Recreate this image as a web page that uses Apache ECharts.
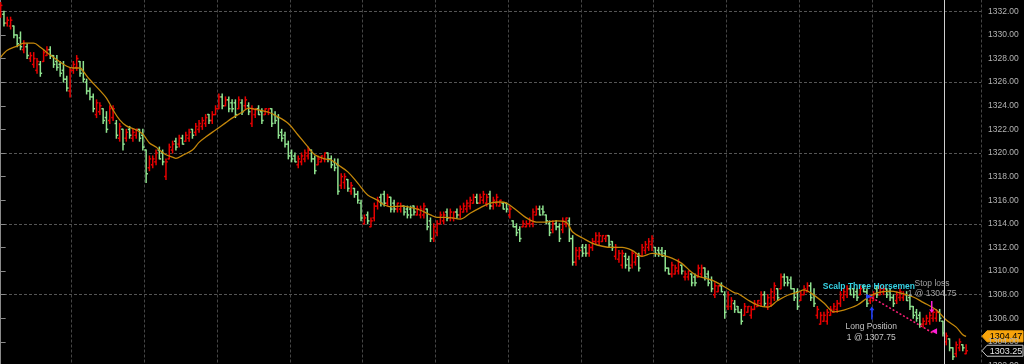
<!DOCTYPE html>
<html><head><meta charset="utf-8">
<script src="https://cdn.jsdelivr.net/npm/echarts@6/dist/echarts.min.js"></script>
<style>html,body{margin:0;padding:0;background:#000;}#c{width:1024px;height:364px;}</style>
</head><body><div id="c"></div>
<script>
// ---- DATA (OHLC bars) ----
const opens = [
1331.75,1331.75,1331.0,1330.75,1330.75,1330.0,1329.75,1328.75,1329.0,1328.0,
1327.5,1327.0,1327.5,1327.75,1328.25,1328.75,1328.25,1327.75,1327.5,1327.0,
1326.25,1325.25,1327.0,1327.25,1327.75,1327.0,1326.0,1325.25,1324.75,1323.25,
1323.5,1323.75,1323.0,1322.75,1323.0,1322.5,1321.25,1322.0,1321.25,1322.0,
1321.25,1321.5,1322.0,1321.5,1320.25,1318.75,1319.0,1319.25,1320.25,1320.0,
1318.0,1319.5,1320.25,1321.0,1320.75,1321.25,1321.0,1321.25,1322.0,1321.75,
1322.0,1322.25,1322.5,1323.25,1322.75,1323.25,1323.75,1324.75,1324.0,1324.5,
1324.25,1324.25,1323.75,1324.25,1324.0,1324.0,1322.5,1323.25,1323.75,1323.5,
1323.25,1323.5,1323.75,1323.25,1323.0,1321.75,1321.5,1320.75,1320.0,1319.75,
1319.0,1319.25,1319.5,1319.75,1320.25,1319.5,1319.0,1319.25,1319.5,1320.0,
1319.5,1319.25,1319.0,1317.25,1317.5,1317.75,1316.75,1317.0,1316.5,1315.75,
1314.0,1314.75,1313.75,1314.5,1315.5,1316.25,1316.5,1315.75,1316.25,1315.75,
1315.25,1315.25,1315.5,1315.25,1315.25,1315.5,1314.75,1314.75,1314.75,1315.25,
1314.25,1312.75,1313.25,1314.0,1314.25,1315.0,1314.5,1314.5,1315.0,1314.75,
1315.0,1315.25,1315.5,1315.75,1316.25,1315.75,1316.0,1315.75,1316.5,1315.5,
1315.75,1315.5,1315.75,1315.75,1314.75,1314.25,1313.75,1313.5,1313.75,1313.75,
1314.0,1314.0,1314.75,1315.25,1315.25,1314.75,1314.0,1313.5,1314.0,1313.75,
1313.5,1314.0,1314.25,1312.75,1310.75,1311.25,1312.0,1312.0,1311.5,1312.0,
1312.5,1312.5,1312.5,1312.75,1313.0,1312.5,1311.25,1311.0,1310.5,1311.25,
1311.0,1310.5,1310.75,1311.25,1311.25,1311.75,1312.0,1312.25,1312.0,1311.75,
1311.75,1311.5,1310.25,1309.75,1309.75,1310.0,1310.5,1309.5,1309.5,1309.75,
1309.5,1309.5,1309.75,1310.25,1309.75,1309.25,1308.0,1308.25,1308.75,1308.0,
1307.0,1307.0,1307.25,1307.0,1306.5,1306.25,1306.5,1306.25,1306.75,1307.0,
1307.25,1308.0,1307.0,1307.25,1307.75,1308.5,1308.5,1309.5,1309.5,1309.25,
1308.5,1308.25,1307.5,1308.0,1308.25,1308.75,1308.0,1306.25,1305.5,1305.75,
1305.75,1306.25,1306.5,1306.75,1307.25,1307.75,1308.0,1308.5,1308.5,1308.25,
1308.0,1308.75,1308.25,1307.5,1307.5,1308.5,1308.0,1308.25,1308.5,1308.25,
1307.75,1307.5,1307.75,1307.75,1308.0,1307.75,1307.0,1306.5,1306.25,1305.5,
1305.5,1305.75,1306.0,1306.0,1306.5,1305.75,1304.0,1304.25,1303.5,1303.0,
1303.5,1303.75,1303.0];
const highs = [
1332.75,1332.0,1331.5,1331.5,1330.75,1330.0,1330.25,1329.5,1329.25,1328.5,
1328.5,1328.0,1327.75,1328.75,1329.0,1329.0,1328.25,1328.25,1327.75,1327.75,
1326.5,1327.25,1327.75,1328.25,1327.75,1327.75,1326.25,1325.5,1325.0,1324.5,
1324.25,1323.75,1323.5,1324.0,1324.0,1322.75,1322.5,1322.0,1322.0,1322.25,
1322.0,1322.0,1322.0,1322.0,1320.25,1319.75,1319.75,1320.25,1320.5,1320.25,
1319.5,1320.75,1321.0,1321.25,1321.5,1321.5,1321.75,1322.0,1322.0,1322.5,
1322.75,1323.0,1323.25,1323.25,1323.5,1324.0,1325.0,1325.0,1324.75,1324.75,
1324.5,1324.5,1324.75,1324.5,1324.75,1324.25,1324.0,1323.75,1324.0,1323.75,
1323.75,1323.75,1323.75,1323.5,1323.25,1322.0,1321.75,1321.0,1320.25,1320.0,
1319.75,1320.0,1320.25,1320.5,1320.25,1319.75,1319.75,1319.75,1320.0,1320.0,
1319.75,1319.5,1319.5,1318.25,1318.25,1317.75,1317.5,1317.0,1316.75,1316.0,
1314.75,1315.0,1314.5,1315.75,1316.25,1316.5,1316.75,1316.5,1316.25,1316.0,
1315.75,1315.75,1315.5,1315.5,1315.5,1315.5,1315.5,1315.5,1315.75,1315.25,
1314.5,1314.0,1314.25,1315.0,1315.0,1315.25,1315.25,1315.0,1315.25,1315.5,
1315.75,1316.0,1316.25,1316.5,1316.5,1316.5,1316.75,1316.5,1316.75,1316.25,
1316.5,1316.0,1315.75,1315.75,1315.5,1314.25,1314.0,1313.75,1314.25,1314.25,
1314.5,1315.25,1315.5,1315.5,1315.5,1314.75,1314.25,1314.25,1314.25,1314.0,
1314.5,1314.5,1314.5,1313.0,1312.0,1312.0,1312.25,1312.25,1312.25,1312.75,
1313.25,1313.25,1313.0,1313.0,1313.0,1312.5,1312.25,1311.75,1311.75,1311.5,
1311.25,1311.75,1311.5,1311.5,1312.25,1312.5,1312.75,1313.0,1312.0,1312.0,
1312.0,1311.75,1310.25,1310.75,1310.5,1311.0,1310.5,1310.0,1310.0,1309.75,
1309.75,1310.5,1310.5,1310.25,1310.0,1309.5,1309.0,1308.75,1309.0,1308.25,
1308.25,1307.75,1307.5,1307.0,1306.75,1307.25,1307.0,1307.0,1307.5,1307.5,
1308.25,1308.25,1308.0,1308.5,1309.0,1308.5,1309.75,1309.75,1309.5,1309.5,
1308.5,1308.5,1308.25,1308.75,1309.0,1309.0,1308.5,1307.0,1306.5,1306.5,
1306.75,1307.0,1307.25,1307.5,1308.25,1308.5,1308.75,1308.75,1308.5,1308.5,
1308.75,1308.75,1308.5,1308.0,1308.25,1308.75,1308.75,1308.75,1308.5,1308.5,
1308.0,1308.25,1308.5,1308.25,1308.25,1308.0,1307.0,1306.75,1306.5,1306.0,
1306.25,1306.5,1306.75,1306.75,1306.75,1305.75,1304.75,1304.25,1303.5,1304.0,
1304.25,1303.75,1303.75];
const lows = [
1331.5,1330.75,1330.75,1330.5,1329.75,1329.0,1328.75,1328.5,1328.0,1327.75,
1327.25,1326.75,1326.5,1327.75,1328.25,1328.0,1327.25,1327.0,1326.5,1326.0,
1325.25,1324.75,1326.75,1327.0,1326.5,1326.0,1325.0,1324.5,1323.5,1323.0,
1323.25,1322.5,1321.75,1322.5,1322.75,1321.25,1321.0,1320.25,1321.0,1321.25,
1321.0,1321.25,1321.0,1320.25,1317.5,1318.5,1318.75,1319.0,1319.5,1319.0,
1317.75,1319.5,1320.0,1320.25,1320.5,1320.75,1321.0,1321.0,1321.25,1321.5,
1321.75,1322.0,1322.25,1322.5,1322.5,1323.25,1323.75,1323.75,1324.0,1323.5,
1323.5,1323.0,1323.75,1323.25,1323.75,1323.25,1322.25,1323.0,1323.25,1322.5,
1323.25,1323.25,1322.25,1322.5,1321.25,1321.0,1320.5,1319.5,1319.25,1319.25,
1318.75,1319.0,1319.25,1319.5,1319.25,1318.25,1319.0,1319.25,1319.25,1319.25,
1318.75,1318.5,1316.5,1317.0,1317.0,1316.75,1316.5,1316.25,1315.75,1314.25,
1314.0,1314.0,1313.75,1314.25,1315.25,1315.5,1315.5,1315.5,1315.0,1315.0,
1315.0,1315.0,1314.75,1314.5,1314.5,1314.75,1314.75,1314.5,1314.5,1313.5,
1312.5,1312.5,1313.0,1314.0,1314.0,1314.25,1314.25,1314.25,1314.5,1314.5,
1315.0,1315.0,1315.25,1315.75,1315.75,1315.75,1315.75,1315.5,1315.25,1315.25,
1315.5,1315.5,1315.25,1315.0,1314.5,1313.75,1313.0,1312.5,1313.75,1313.75,
1313.75,1313.75,1314.75,1314.75,1314.75,1314.0,1313.0,1313.25,1313.5,1312.5,
1313.25,1313.75,1312.5,1310.5,1310.5,1311.0,1311.25,1311.25,1311.25,1311.75,
1312.25,1312.25,1312.5,1312.5,1312.0,1311.75,1311.0,1310.75,1310.25,1310.25,
1310.0,1310.25,1310.5,1310.0,1311.25,1311.5,1311.75,1311.75,1311.25,1311.25,
1311.25,1310.0,1309.75,1309.5,1309.75,1309.75,1309.75,1309.25,1309.25,1308.75,
1308.75,1309.5,1309.5,1309.25,1308.75,1308.25,1307.75,1308.25,1308.25,1306.0,
1306.75,1306.75,1306.5,1306.5,1305.5,1306.25,1306.5,1306.0,1306.75,1307.0,
1307.0,1307.0,1306.75,1307.0,1307.5,1307.5,1308.5,1308.75,1308.75,1308.5,
1307.5,1306.75,1307.5,1308.0,1308.25,1307.5,1307.0,1306.0,1305.5,1305.75,
1305.5,1306.25,1306.5,1306.5,1307.0,1307.5,1307.75,1308.0,1307.75,1307.5,
1308.0,1308.25,1307.0,1307.25,1307.5,1307.75,1308.0,1308.0,1307.75,1307.5,
1307.0,1307.25,1307.5,1307.5,1307.5,1306.75,1306.0,1305.75,1305.25,1305.25,
1305.5,1305.5,1305.75,1305.75,1305.75,1304.5,1303.75,1303.25,1302.5,1302.75,
1303.25,1303.25,1303.0];
const closes = [
1332.5,1331.0,1331.25,1331.25,1330.0,1329.25,1329.0,1329.25,1328.25,1328.25,
1328.0,1327.75,1326.75,1328.5,1328.75,1328.25,1327.5,1327.25,1326.75,1326.25,
1325.5,1327.0,1327.5,1328.0,1326.75,1326.25,1325.25,1324.75,1323.75,1324.25,
1324.0,1322.75,1322.0,1323.75,1323.75,1321.5,1322.25,1320.75,1321.75,1321.5,
1321.75,1322.0,1321.25,1320.5,1318.25,1319.5,1319.5,1320.0,1319.5,1319.25,
1319.25,1320.5,1320.75,1320.5,1321.25,1320.75,1321.5,1321.75,1321.5,1322.25,
1322.5,1322.75,1323.0,1322.75,1323.25,1323.75,1324.75,1324.0,1324.5,1323.75,
1323.75,1323.25,1324.5,1323.5,1324.5,1323.5,1323.75,1323.75,1323.25,1322.75,
1323.75,1323.75,1322.5,1322.75,1321.5,1321.25,1320.75,1319.75,1319.5,1319.25,
1319.5,1319.75,1320.0,1320.25,1319.5,1318.5,1319.5,1319.75,1320.0,1319.5,
1319.0,1318.75,1316.75,1318.0,1318.0,1317.0,1317.25,1316.5,1316.0,1314.5,
1314.5,1314.25,1314.25,1315.5,1316.0,1315.75,1315.75,1316.25,1315.25,1315.25,
1315.75,1315.5,1315.0,1314.75,1314.75,1315.0,1315.25,1315.25,1315.5,1313.75,
1312.75,1313.75,1314.0,1314.75,1314.75,1314.5,1315.0,1315.0,1314.75,1315.25,
1315.5,1315.75,1316.0,1316.25,1315.75,1316.25,1316.5,1316.25,1315.5,1316.0,
1316.25,1316.0,1315.25,1315.25,1315.25,1313.75,1313.25,1312.75,1314.0,1314.0,
1314.25,1315.0,1315.25,1314.75,1315.0,1314.25,1313.25,1314.0,1313.75,1312.75,
1314.25,1314.5,1312.75,1310.75,1311.75,1311.75,1311.5,1311.5,1312.0,1312.5,
1313.0,1313.0,1313.0,1313.0,1312.25,1312.0,1312.0,1311.5,1311.5,1310.5,
1310.25,1311.5,1311.25,1310.25,1312.0,1312.25,1312.5,1312.75,1311.5,1311.5,
1311.25,1310.25,1309.75,1310.5,1310.25,1310.75,1310.0,1309.75,1310.0,1309.0,
1309.0,1310.25,1310.25,1309.5,1309.0,1308.5,1308.75,1308.75,1308.25,1306.5,
1308.0,1307.5,1306.75,1306.5,1305.75,1307.0,1307.0,1306.75,1307.25,1307.5,
1308.0,1307.25,1307.75,1308.25,1308.75,1307.75,1309.5,1309.0,1309.0,1308.5,
1307.75,1307.0,1308.0,1308.5,1308.75,1307.75,1307.25,1306.75,1306.25,1306.25,
1306.5,1306.75,1307.0,1307.25,1308.0,1308.25,1308.5,1308.0,1308.0,1307.75,
1308.5,1308.25,1307.25,1307.75,1308.0,1308.0,1308.5,1308.5,1308.0,1307.75,
1307.25,1308.0,1308.25,1308.0,1307.5,1307.0,1306.25,1306.0,1305.5,1305.75,
1306.0,1306.25,1306.5,1306.5,1306.0,1304.75,1304.5,1303.5,1302.75,1303.75,
1304.0,1303.5,1303.25];
// moving average, read at anchor bars
const maBar = [0,2,5,7,10,12,15,17,20,22,24,25,27,30,32,34,36,38,41,43,45,47,48,50,52,53,55,58,60,62,65,68,70,73,75,76,78,81,83,87,90,93,95,98,100,102,105,108,111,114,115,118,121,124,127,130,132,135,139,142,145,148,151,153,156,159,162,165,168,171,173,176,179,182,185,188,191,194,197,200,203,206,209,211,215,219,222,223,226,229,232,235,238,241,243,245,249,252,255,259,262,265,269,272,276,279,283,286,289,291,292];
const maVal = [1328.1,1328.7,1329.05,1329.3,1329.3,1328.95,1328.3,1327.9,1327.35,1327.2,1327.2,1326.9,1326.2,1325.3,1324.65,1323.65,1322.8,1322.3,1321.95,1321.6,1320.85,1320.5,1320.25,1319.85,1319.65,1319.55,1319.8,1320.25,1320.9,1321.35,1321.95,1322.55,1322.95,1323.45,1323.8,1323.75,1323.65,1323.45,1323.2,1322.5,1321.5,1320.5,1319.85,1319.5,1319.4,1319.0,1318.4,1317.45,1316.45,1316.0,1315.75,1315.45,1315.5,1315.4,1315.15,1314.75,1314.55,1314.55,1314.4,1314.9,1315.35,1315.75,1315.85,1315.75,1315.15,1314.5,1314.15,1314.15,1314.25,1314.15,1313.3,1312.8,1312.35,1312.1,1312.0,1312.0,1311.75,1311.25,1311.5,1311.35,1311.1,1310.65,1309.9,1309.55,1309.25,1308.65,1308.15,1308.1,1307.55,1307.1,1306.95,1307.5,1307.95,1308.2,1308.4,1308.15,1307.3,1306.55,1306.7,1307.1,1307.7,1308.15,1308.3,1308.15,1307.8,1307.35,1306.7,1305.85,1305.25,1304.6,1304.47];
// trade / annotation values
const entryBar = 263.5, entryPrice = 1307.75;
const exitBar = 282, exitPrice = 1304.75;
const cursorBar = 285.5;
const lastMA = 1304.47, lastPrice = 1303.25;
const strategyName = 'Scalp Three Horsemen';
const entryText = 'Long Position\n1 @ 1307.75';
const exitText = 'Stop loss\n1 @ 1304.75';
const yMin = 1302, yMax = 1333, yStep = 2, gridStep = 6;
const nSlots = 297;

// ---- CHART ----
const UP = '#e60000', DOWN = '#8fe28f';
const FONT = 'Liberation Sans, Arial, sans-serif';
const slots = Array.from({length: nSlots}, (_, i) => String(i));
const bars = opens.map((o, i) => [i, o, highs[i], lows[i], closes[i]]);
const ma = maBar.map((b, i) => [b, maVal[i]]);

function renderOHLC(params, api) {
  const i = api.value(0), o = api.value(1), h = api.value(2), l = api.value(3), c = api.value(4);
  const pH = api.coord([i, h]), pL = api.coord([i, l]), pO = api.coord([i, o]), pC = api.coord([i, c]);
  const x = pH[0];
  const st = {stroke: c >= o ? UP : DOWN, lineWidth: 1.5};
  return {type: 'group', children: [
    {type: 'line', shape: {x1: x, y1: pH[1] - 0.5, x2: x, y2: pL[1] + 0.5}, style: st},
    {type: 'line', shape: {x1: x - 1.8, y1: pO[1], x2: x, y2: pO[1]}, style: st},
    {type: 'line', shape: {x1: x, y1: pC[1], x2: x + 1.8, y2: pC[1]}, style: st}
  ]};
}

const chart = echarts.init(document.getElementById('c'), null, {renderer: 'canvas'});
chart.setOption({
  backgroundColor: '#000',
  animation: false,
  grid: {left: -1, right: 43, top: -0.5, bottom: -1.5, containLabel: false, outerBoundsMode: 'none'},
  xAxis: [
    {type: 'category', data: slots, boundaryGap: true,
     axisLine: {show: false}, axisTick: {show: false}, axisLabel: {show: false},
     splitLine: {show: true, interval: 21, lineStyle: {color: '#454545', type: [3, 2], width: 1}}},
    {type: 'value', min: -0.5, max: nSlots - 0.5, show: false}
  ],
  yAxis: [
    {type: 'value', position: 'right', min: yMin, max: yMax, interval: yStep,
     axisLine: {show: true, lineStyle: {color: '#8a8a8a'}},
     axisTick: {show: true, length: 5, lineStyle: {color: '#8a8a8a'}},
     axisLabel: {color: '#b4b4b4', fontSize: 8.5, fontFamily: FONT, margin: 7, showMaxLabel: false,
                 formatter: v => v.toFixed(2)},
     splitLine: {show: false}},
    {type: 'value', position: 'right', min: yMin, max: yMax, interval: gridStep,
     axisLine: {show: false}, axisTick: {show: false}, axisLabel: {show: false},
     splitLine: {show: true, showMinLine: false, showMaxLine: false, lineStyle: {color: '#555', type: [3, 2], width: 1}}}
  ],
  series: [
    {type: 'custom', xAxisIndex: 1, yAxisIndex: 0, renderItem: renderOHLC, data: bars,
     encode: {x: 0, y: [1, 2, 3, 4]}, clip: false, silent: true},
    {type: 'line', xAxisIndex: 1, yAxisIndex: 0, data: ma, smooth: 0.35, showSymbol: false, clip: false,
     lineStyle: {color: '#c4870a', width: 1.3}, silent: true, z: 3,
     markLine: {silent: true, symbol: 'none', animation: false,
       data: [
         {xAxis: cursorBar, lineStyle: {color: '#cfcfcf', width: 1, type: 'solid'}, label: {show: false}},
         [{coord: [entryBar, entryPrice]}, {coord: [exitBar, exitPrice],
           lineStyle: {color: '#ff1f78', width: 1.6, type: [2, 2]}, label: {show: false}}]
       ]},
     markPoint: {silent: true, animation: false,
       data: [
         {coord: [262.6, 1308.65], symbol: 'rect', symbolSize: 0,
          label: {show: true, position: 'inside', formatter: strategyName, color: '#36d2e4', fontWeight: 'bold', fontSize: 8.5, fontFamily: FONT}},
         {coord: [281.7, 1308.5], symbol: 'rect', symbolSize: 0,
          label: {show: true, position: 'inside', formatter: exitText, color: '#a2a2a2', fontSize: 8.5, lineHeight: 10, fontFamily: FONT}},
         {coord: [263.3, 1304.83], symbol: 'rect', symbolSize: 0,
          label: {show: true, position: 'inside', formatter: entryText, color: '#c4c4c4', fontSize: 8.5, lineHeight: 10.5, fontFamily: FONT}},
         {coord: [entryBar, 1306.45], symbol: 'path://M2,0 L4,3 L2.6,3 L2.6,10 L1.4,10 L1.4,3 L0,3 Z', symbolSize: [5, 13],
          itemStyle: {color: '#1f3dff'}, label: {show: false}},
         {coord: [262.7, 1307.85], symbol: 'triangle', symbolRotate: -90, symbolSize: [5, 6],
          itemStyle: {color: '#1f3dff'}, label: {show: false}},
         {coord: [281.6, 1306.95], symbol: 'path://M1.4,0 L2.6,0 L2.6,7 L4,7 L2,10 L0,7 L1.4,7 Z', symbolSize: [5, 12],
          itemStyle: {color: '#ff1fd6'}, label: {show: false}},
         {coord: [exitBar + 0.3, 1304.9], symbol: 'triangle', symbolRotate: 90, symbolSize: [6, 6],
          itemStyle: {color: '#ff1fd6'}, label: {show: false}}
       ]}}
  ]
});

// price tags on the axis, positioned through the axis scale
function priceTag(value, fill, stroke, textColor) {
  const xEdge = chart.convertToPixel({xAxisIndex: 1}, nSlots - 0.5);
  const y = chart.convertToPixel({yAxisIndex: 0}, value);
  const x0 = xEdge + 1, h = 5.5;
  return {type: 'group', z: 100, children: [
    {type: 'polygon', shape: {points: [[x0, y], [x0 + 5, y - h], [x0 + 41, y - h], [x0 + 41, y + h], [x0 + 5, y + h]]},
     style: {fill: fill, stroke: stroke, lineWidth: 1}},
    {type: 'text', x: x0 + 24, y: y + 0.5, style: {text: value.toFixed(2), fill: textColor, font: '9px ' + FONT,
     align: 'center', verticalAlign: 'middle'}}
  ]};
}
chart.setOption({graphic: [
  priceTag(lastMA, '#f7a30b', '#f7a30b', '#000'),
  priceTag(lastPrice, '#000', '#c8c8c8', '#e6e6e6')
]});
</script>
</body></html>
